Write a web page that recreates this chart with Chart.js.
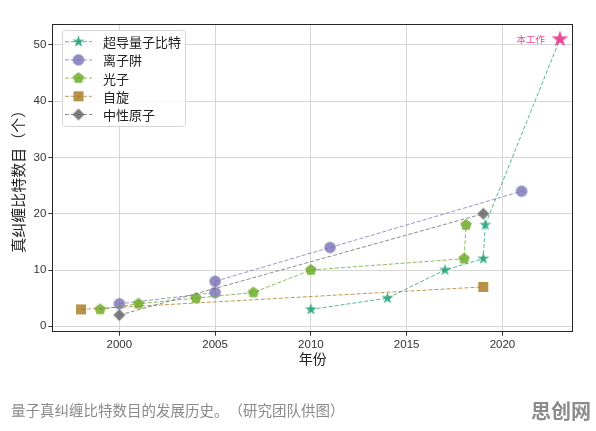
<!DOCTYPE html>
<html><head><meta charset="utf-8">
<script src="https://cdn.jsdelivr.net/npm/chart.js@4"></script>
<style>
html,body{margin:0;padding:0;background:#fff;}
#wrap{position:relative;width:596px;height:431px;overflow:hidden;}
#c{position:absolute;left:0;top:0;}
#cap{position:absolute;left:11px;top:400px;font-family:'Noto Sans CJK SC',sans-serif;font-size:14.5px;line-height:20px;color:#8a8a8a;white-space:nowrap;text-spacing-trim:space-all;}
#wm{position:absolute;left:531px;top:399px;font-family:'Noto Sans CJK SC',sans-serif;font-weight:bold;font-size:20px;line-height:24px;color:#8c8c8c;white-space:nowrap;}
</style></head><body>
<div id="wrap"><canvas id="c" width="596" height="431"></canvas>
<div id="cap">量子真纠缠比特数目的发展历史。（研究团队供图）</div>
<div id="wm">思创网</div></div>
<script>
// ---- data ----
const seriesNames = ['超导量子比特', '离子阱', '光子', '自旋', '中性原子'];
const scYears = [2010, 2014, 2017, 2019, 2019.1, 2023];
const scQubits = [3, 5, 10, 12, 18, 51];
const ionYears = [2000, 2005, 2005, 2011, 2021];
const ionQubits = [4, 6, 8, 14, 24];
const photonYears = [1999, 2001, 2004, 2007, 2010, 2018, 2018.1];
const photonQubits = [3, 4, 5, 6, 10, 12, 18];
const spinYears = [1998, 2019];
const spinQubits = [3, 7];
const atomYears = [2000, 2019];
const atomQubits = [2, 20];
const xTicks = [2000, 2005, 2010, 2015, 2020];
const yTicks = [0, 10, 20, 30, 40, 50];
const thisWorkLabel = '本工作';
const xTitle = '年份';
const yTitle = '真纠缠比特数目（个）';

// ---- styles ----
const cols = {
  sc: 'rgba(27,158,119,0.85)',
  ion: 'rgba(117,112,179,0.8)',
  ph: 'rgba(102,166,30,0.8)',
  spin: 'rgba(166,118,29,0.8)',
  atom: 'rgba(102,102,102,0.85)',
  pink: 'rgba(231,41,138,0.85)'
};
const lineCols = {
  sc: 'rgba(27,158,119,0.75)',
  ion: 'rgba(117,112,179,0.75)',
  ph: 'rgba(102,166,30,0.75)',
  spin: 'rgba(166,118,29,0.75)',
  atom: 'rgba(102,102,102,0.75)'
};

function shapePath(ctx, shape, r) {
  ctx.beginPath();
  if (shape === 'circle') {
    ctx.arc(0, 0, r, 0, Math.PI * 2);
  } else if (shape === 'star') {
    for (let i = 0; i < 10; i++) {
      const rr = i % 2 === 0 ? r : r * 0.381966;
      const a = -Math.PI / 2 + i * Math.PI / 5;
      const px = rr * Math.cos(a), py = rr * Math.sin(a);
      i === 0 ? ctx.moveTo(px, py) : ctx.lineTo(px, py);
    }
    ctx.closePath();
  } else if (shape === 'pentagon') {
    for (let i = 0; i < 5; i++) {
      const a = -Math.PI / 2 + i * 2 * Math.PI / 5;
      const px = r * Math.cos(a), py = r * Math.sin(a);
      i === 0 ? ctx.moveTo(px, py) : ctx.lineTo(px, py);
    }
    ctx.closePath();
  } else if (shape === 'square') {
    ctx.rect(-r, -r, 2 * r, 2 * r);
  } else if (shape === 'diamond') {
    ctx.moveTo(0, -r); ctx.lineTo(r, 0); ctx.lineTo(0, r); ctx.lineTo(-r, 0);
    ctx.closePath();
  }
}
function makeMarker(shape, color, r) {
  const s = Math.ceil(2 * r + 4);
  const cv = document.createElement('canvas');
  cv.width = s; cv.height = s;
  const ctx = cv.getContext('2d');
  ctx.translate(s / 2, s / 2);
  shapePath(ctx, shape, r);
  ctx.fillStyle = color;
  ctx.fill();
  return cv;
}
const mk = {
  sc: makeMarker('star', cols.sc, 6.3),
  pink: makeMarker('star', cols.pink, 8.8),
  ion: makeMarker('circle', cols.ion, 5.8),
  ph: makeMarker('pentagon', cols.ph, 6),
  spin: makeMarker('square', cols.spin, 5),
  atom: makeMarker('diamond', cols.atom, 6)
};

function pts(xs, ys) { return xs.map((x, i) => ({ x: x, y: ys[i] })); }

const keys = ['sc', 'ion', 'ph', 'spin', 'atom'];
const allData = [pts(scYears, scQubits), pts(ionYears, ionQubits), pts(photonYears, photonQubits), pts(spinYears, spinQubits), pts(atomYears, atomQubits)];

const datasets = keys.map((k, i) => ({
  label: seriesNames[i],
  data: allData[i],
  showLine: true,
  borderColor: lineCols[k],
  borderWidth: 1,
  borderDash: [4, 2],
  backgroundColor: cols[k],
  pointStyle: (k === 'sc')
    ? (c => c.dataIndex === scYears.length - 1 ? mk.pink : mk.sc)
    : mk[k],
  pointRadius: 5,
  pointHoverRadius: 5,
  order: 5 - i
}));

const fontNum = "'Liberation Sans', 'Noto Sans CJK SC', sans-serif";
const fontCJK = "'Noto Sans CJK SC', 'Liberation Sans', sans-serif";

const framePlugin = {
  id: 'frame',
  beforeDatasetsDraw(chart) {
    const a = chart.chartArea, ctx = chart.ctx;
    ctx.save();
    ctx.strokeStyle = '#262626';
    ctx.lineWidth = 1;
    ctx.strokeRect(Math.round(a.left) + 0.5, Math.round(a.top) + 0.5, Math.round(a.right - a.left) - 1, Math.round(a.bottom - a.top) - 1);
    ctx.restore();
  },
  afterDraw(chart) {
    const ctx = chart.ctx;
    const xs = chart.scales.x, ys = chart.scales.y;
    // "本工作" label next to the latest point
    const li = scYears.length - 1;
    ctx.save();
    ctx.font = '9.5px ' + fontCJK;
    ctx.fillStyle = cols.pink;
    ctx.textAlign = 'right';
    ctx.textBaseline = 'middle';
    ctx.fillText(thisWorkLabel, xs.getPixelForValue(scYears[li]) - 15, ys.getPixelForValue(scQubits[li]));
    // legend
    const bx = 62, by = 30, bw = 123, bh = 96;
    ctx.beginPath();
    if (ctx.roundRect) ctx.roundRect(bx + 0.5, by + 0.5, bw, bh, 3); else ctx.rect(bx + 0.5, by + 0.5, bw, bh);
    ctx.fillStyle = 'rgba(255,255,255,0.85)';
    ctx.fill();
    ctx.strokeStyle = '#d5d5d5';
    ctx.lineWidth = 1;
    ctx.stroke();
    keys.forEach((k, i) => {
      const y = 41.7 + i * 18.2;
      ctx.save();
      ctx.strokeStyle = lineCols[k];
      ctx.setLineDash([4, 2]);
      ctx.beginPath();
      ctx.moveTo(65, y); ctx.lineTo(92, y);
      ctx.stroke();
      ctx.restore();
      const m = mk[k];
      ctx.drawImage(m, 78.5 - m.width / 2, y - m.height / 2);
      ctx.font = '13px ' + fontCJK;
      ctx.fillStyle = '#222';
      ctx.textAlign = 'left';
      ctx.textBaseline = 'middle';
      ctx.fillText(seriesNames[i], 103, y + 0.5);
    });
    ctx.restore();
  }
};

new Chart(document.getElementById('c'), {
  type: 'scatter',
  data: { datasets: datasets },
  options: {
    responsive: false,
    animation: false,
    events: [],
    layout: { padding: { left: 0, top: 24, right: 22.7, bottom: 63.3 } },
    plugins: { legend: { display: false }, tooltip: { enabled: false } },
    scales: {
      x: {
        type: 'linear',
        min: 1996.5, max: 2023.7,
        afterBuildTicks: s => { s.ticks = xTicks.map(v => ({ value: v })); },
        afterFit: s => { s.height = 36; },
        grid: { color: '#d6d6d6', lineWidth: 1, tickLength: 4, tickColor: '#333' },
        border: { display: false },
        ticks: { callback: v => String(v), font: { family: fontNum, size: 11.5 }, color: '#333', padding: 2, maxRotation: 0, autoSkip: false },
        title: { display: true, text: xTitle, font: { family: fontCJK, size: 14 }, color: '#222', padding: { top: 0, bottom: 1 } }
      },
      y: {
        type: 'linear',
        min: -0.96, max: 53.7,
        afterBuildTicks: s => { s.ticks = yTicks.map(v => ({ value: v })); },
        afterFit: s => { s.width = 52.3; },
        grid: { color: '#d6d6d6', lineWidth: 1, tickLength: 4, tickColor: '#333' },
        border: { display: false },
        ticks: { callback: v => String(v), font: { family: fontNum, size: 11.5 }, color: '#333', padding: 2, autoSkip: false },
        title: { display: true, text: yTitle, font: { family: fontCJK, size: 15 }, color: '#222', padding: { top: 9, bottom: 0 } }
      }
    }
  },
  plugins: [framePlugin]
});
</script>
</body></html>
